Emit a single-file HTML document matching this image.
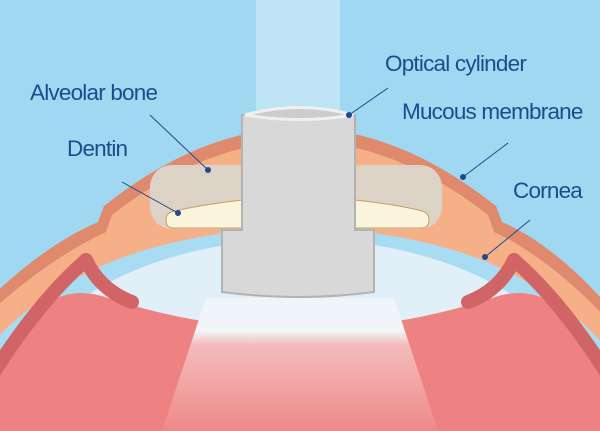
<!DOCTYPE html>
<html><head><meta charset="utf-8"><style>
html,body{margin:0;padding:0;width:600px;height:431px;overflow:hidden;background:#a0d8f1}
svg{display:block}
text{font-family:"Liberation Sans",sans-serif;font-size:22.5px;fill:#1f4a8e;letter-spacing:-0.8px}
</style></head><body>
<svg width="600" height="431" viewBox="0 0 600 431" xmlns="http://www.w3.org/2000/svg">
<defs>
<linearGradient id="beam" x1="0" y1="0" x2="0" y2="1">
<stop offset="0" stop-color="#eef6fb"/><stop offset="0.25" stop-color="#f2f4f8"/><stop offset="0.35" stop-color="#f4bcbc"/><stop offset="1" stop-color="#ee8989"/>
</linearGradient>
</defs>
<rect width="600" height="431" fill="#a0d8f1"/>
<rect x="256" y="0" width="84" height="125" fill="#bfe4f6"/>
<path d="M-10,298 Q45,245 98,222 L104,206 Q300,50 496,206 L502,222 Q555,245 610,308 L610,431 L-10,431 Z" fill="#df8a6d"/>
<path d="M-10,312 Q50,258 106,232 L112,215 Q300,68 488,215 L494,232 Q550,258 610,322 L610,431 L-10,431 Z" fill="#f6b088"/>
<path d="M-10,345 C60,270 150,234 300,226 C450,234 540,270 610,352 L610,431 L-10,431 Z" fill="#a8dcf2"/>
<path d="M20,360 C70,285 170,242 300,238 C430,242 530,285 580,360 Z" fill="#e1eff8"/>
<path d="M-10,431 L-10,370 L57,298 Q80,288 108,298 Q200,328 300,330 Q400,328 492,298 Q520,288 543,298 L610,370 L610,431 Z" fill="#ee8282"/>
<path d="M-6,372 Q40,300 86,260" stroke="#d06467" stroke-width="14" fill="none"/>
<path d="M606,372 Q560,300 514,260" stroke="#d06467" stroke-width="14" fill="none"/>
<path d="M86,260 Q100,290 132,302" stroke="#d06467" stroke-width="14" fill="none" stroke-linecap="round"/>
<path d="M514,260 Q500,290 468,302" stroke="#d06467" stroke-width="14" fill="none" stroke-linecap="round"/>
<path d="M206,298 L394,298 L438,431 L162,431 Z" fill="url(#beam)"/>
<rect x="150" y="165" width="110" height="64" rx="22" fill="#dcd2c6"/>
<rect x="340" y="165" width="102" height="64" rx="22" fill="#dcd2c6"/>
<path d="M175,211 Q200,205 242,200 L242,228 L173,228 Q166,228 166,220 Q166,212 175,211 Z" fill="#f9f4db" stroke="#c99c63" stroke-width="1"/>
<path d="M355,200 Q400,205 422,211 Q429,213 429,220 Q429,228 421,228 L355,228 Z" fill="#f9f4db" stroke="#c99c63" stroke-width="1"/>
<path d="M242,115 L355,115 L355,230 L374,230 L374,292 Q300,302 222,292 L222,230 L242,230 Z" fill="#d8d8d8" stroke="#b3b3b3" stroke-width="2"/>
<path d="M245,115 Q300,100 353,115 Q300,124 245,115 Z" fill="#cccccc" stroke="#f0f0f0" stroke-width="3"/>
<text x="30" y="100">Alveolar bone</text>
<text x="385" y="71">Optical cylinder</text>
<text x="402" y="119">Mucous membrane</text>
<text x="67" y="156">Dentin</text>
<text x="513" y="198">Cornea</text>
<g stroke="#1f4a8e" stroke-width="1">
<line x1="150" y1="115" x2="208" y2="170"/>
<line x1="388" y1="88" x2="349" y2="115"/>
<line x1="508" y1="143" x2="463" y2="177"/>
<line x1="122" y1="182" x2="178" y2="213"/>
<line x1="530" y1="220" x2="485" y2="257"/>
</g>
<g fill="#1f4a8e">
<circle cx="208" cy="170" r="3"/><circle cx="349" cy="115" r="3"/><circle cx="463" cy="177" r="3"/><circle cx="178" cy="213" r="3"/><circle cx="485" cy="257" r="3"/>
</g>
</svg>
</body></html>
